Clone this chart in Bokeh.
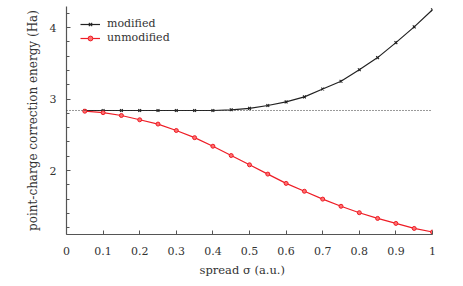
from bokeh.plotting import figure
from bokeh.models import Range1d, FixedTicker, Legend, LegendItem, Span, Title
from bokeh.embed import file_html
from bokeh.resources import INLINE

sigma = [0.05, 0.10, 0.15, 0.20, 0.25, 0.30, 0.35, 0.40, 0.45, 0.50,
         0.55, 0.60, 0.65, 0.70, 0.75, 0.80, 0.85, 0.90, 0.95, 1.00]
modified = [2.84, 2.84, 2.84, 2.84, 2.84, 2.84, 2.84, 2.84, 2.85, 2.87,
            2.91, 2.96, 3.03, 3.14, 3.25, 3.41, 3.58, 3.79, 4.01, 4.25]
unmodified = [2.83, 2.81, 2.77, 2.71, 2.65, 2.56, 2.46, 2.34, 2.21, 2.08,
              1.95, 1.82, 1.71, 1.60, 1.50, 1.41, 1.33, 1.26, 1.19, 1.14]
reference_energy = 2.84
x_ticks = [0, 0.1, 0.2, 0.3, 0.4, 0.5, 0.6, 0.7, 0.8, 0.9, 1.0]
x_tick_labels = ["0", "0.1", "0.2", "0.3", "0.4", "0.5", "0.6", "0.7", "0.8", "0.9", "1"]
y_ticks = [2, 3, 4]
y_minor = [1.2, 1.4, 1.6, 1.8, 2.2, 2.4, 2.6, 2.8, 3.2, 3.4, 3.6, 3.8, 4.2]

FONT = "DejaVu Serif"
AX = "#555555"
TXT = "#333333"

p = figure(width=455, height=280, output_backend="svg", toolbar_location=None,
           x_range=Range1d(0, 1), y_range=Range1d(1.105, 4.295),
           min_border_left=66, min_border_right=23, min_border_top=6, min_border_bottom=10)
p.outline_line_color = None
p.grid.visible = False
p.background_fill_color = None
p.border_fill_color = None

xa = p.xaxis[0]
xa.ticker = FixedTicker(ticks=x_ticks, minor_ticks=[])
xa.major_label_overrides = {t: l for t, l in zip(x_ticks, x_tick_labels)}
ya = p.yaxis[0]
ya.ticker = FixedTicker(ticks=y_ticks, minor_ticks=y_minor)

for ax in (xa, ya):
    ax.axis_line_color = AX
    ax.axis_line_width = 1.2
    ax.major_tick_line_color = AX
    ax.minor_tick_line_color = AX
    ax.major_tick_in = 4
    ax.major_tick_out = 0
    ax.minor_tick_in = 3
    ax.minor_tick_out = 0
    ax.major_label_text_font = FONT
    ax.major_label_text_font_size = "11px"
    ax.major_label_text_color = TXT
    ax.axis_label_text_font = FONT
    ax.axis_label_text_font_style = "normal"
    ax.axis_label_text_color = TXT

xa.major_label_standoff = 12
ya.axis_label = "point-charge correction energy (Ha)"
ya.axis_label_text_font_size = "12px"
ya.major_label_standoff = 10
ya.axis_label_standoff = 7
ya.major_label_orientation = "horizontal"

# x-axis title, placed slightly left of centre as in the original
p.add_layout(Title(text="spread σ (a.u.)", align="left", offset=133,
                   text_font=FONT, text_font_size="11.5px", text_font_style="normal",
                   text_color=TXT, standoff=7), "below")

p.add_layout(Span(location=reference_energy, dimension="width", line_color="#333333",
                  line_dash="1 2", line_width=1))

l1 = p.line(sigma, modified, line_color="#222222", line_width=1.2)
m1 = p.scatter(sigma, modified, marker="x", size=4, line_color="#222222", line_width=1.1)
l2 = p.line(sigma, unmodified, line_color="#ee1c25", line_width=1.2)
m2 = p.scatter(sigma, unmodified, marker="circle", size=4, line_color="#ee1c25",
               fill_color="#ff6f6f", line_width=1)

legend_style = dict(padding=0, margin=0, spacing=0,
                    glyph_width=20, glyph_height=12, label_height=12, label_standoff=7,
                    label_text_font=FONT, label_text_font_size="11px",
                    label_text_color=TXT,
                    background_fill_alpha=0, border_line_color=None)
p.add_layout(Legend(items=[LegendItem(label="modified", renderers=[l1, m1])],
                    location=(14, 204), **legend_style))
p.add_layout(Legend(items=[LegendItem(label="unmodified", renderers=[l2, m2])],
                    location=(14, 190), **legend_style))

open("out.html", "w").write(file_html(p, INLINE))
